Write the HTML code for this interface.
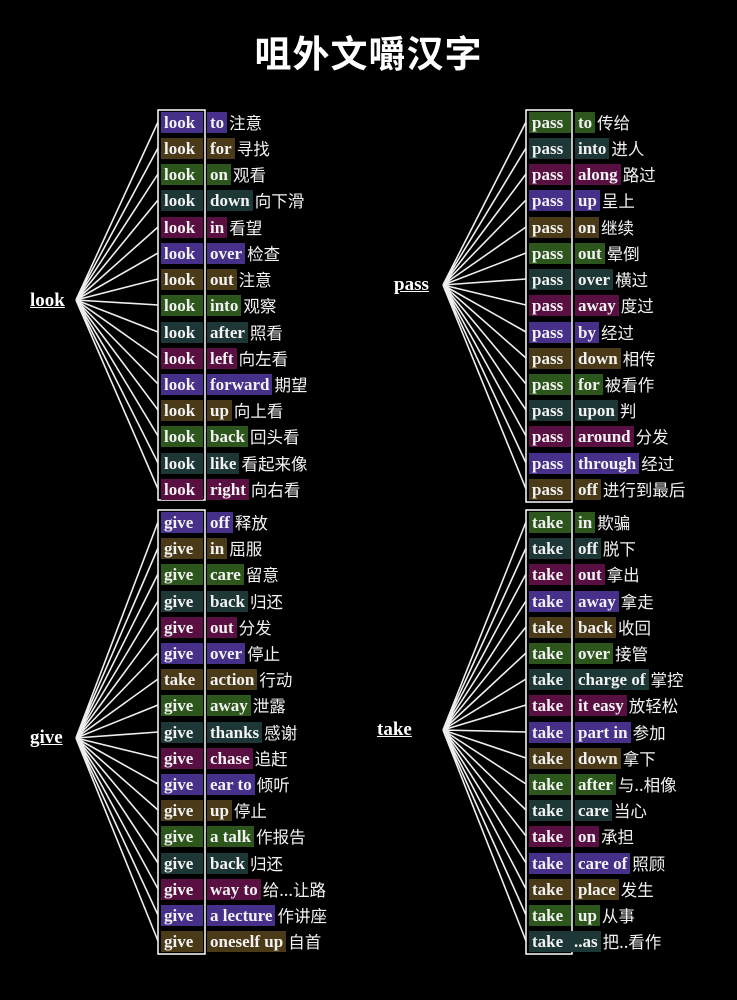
<!DOCTYPE html>
<html><head><meta charset="utf-8"><style>
body{margin:0;background:#000;}
#w{position:relative;width:737px;height:1000px;background:#000;overflow:hidden;color:#f2f2f2}
svg{position:absolute;left:0;top:0}
.t{position:absolute;left:0;width:737px;top:24px;text-align:center;font:bold 37px "Noto Sans CJK SC",sans-serif;color:#fff;letter-spacing:1px}
.k{position:absolute;font:bold 19px "Liberation Serif",serif;text-decoration:underline;color:#fff}
.r{position:absolute;height:21px;display:flex;align-items:center;white-space:nowrap;font:bold 17px "Liberation Serif",serif}
.r span{display:block;height:21px;line-height:21px;overflow:hidden}
.a{width:39px;padding-left:3px}
.b{margin-left:4px;padding:0 3px}
.r .c{font:16.5px "Noto Sans CJK SC",sans-serif;margin-left:2px;line-height:21px}
.p{background:#46308a}.o{background:#4a3a18}.g{background:#2d561c}.s{background:#1d3636}.m{background:#5a0f42}
.L{left:161px}.R{left:529px}
</style></head><body><div id="w">
<svg width="737" height="1000">
<g stroke="#eee" stroke-width="1.6" fill="none">
<rect x="158" y="110" width="47" height="390"/>
<rect x="526" y="110" width="46" height="392"/>
<rect x="158" y="510" width="47" height="444"/>
<rect x="526" y="510" width="46" height="444"/>
<path d="M76 300L158 122M76 300L158 148M76 300L158 174M76 300L158 200M76 300L158 227M76 300L158 253M76 300L158 279M76 300L158 305M76 300L158 332M76 300L158 358M76 300L158 384M76 300L158 410M76 300L158 436M76 300L158 463M76 300L158 489"/>
<path d="M443 285L526 122M443 285L526 148M443 285L526 174M443 285L526 200M443 285L526 227M443 285L526 253M443 285L526 279M443 285L526 305M443 285L526 332M443 285L526 358M443 285L526 384M443 285L526 410M443 285L526 436M443 285L526 463M443 285L526 489"/>
<path d="M76 738L158 522M76 738L158 548M76 738L158 574M76 738L158 601M76 738L158 627M76 738L158 653M76 738L158 679M76 738L158 705M76 738L158 732M76 738L158 758M76 738L158 784M76 738L158 810M76 738L158 836M76 738L158 863M76 738L158 889M76 738L158 915M76 738L158 941"/>
<path d="M443 730L526 522M443 730L526 548M443 730L526 574M443 730L526 601M443 730L526 627M443 730L526 653M443 730L526 679M443 730L526 705M443 730L526 732M443 730L526 758M443 730L526 784M443 730L526 810M443 730L526 836M443 730L526 863M443 730L526 889M443 730L526 915M443 730L526 941"/>
</g></svg>
<div class="t">咀外文嚼汉字</div>
<div class="k" style="left:30px;top:290px">look</div>
<div class="k" style="left:394px;top:274px">pass</div>
<div class="k" style="left:30px;top:727px">give</div>
<div class="k" style="left:377px;top:719px">take</div>

<div class="r L" style="top:112px"><span class="a p">look</span><span class="b p">to</span><span class="c">注意</span></div>
<div class="r L" style="top:138px"><span class="a o">look</span><span class="b o">for</span><span class="c">寻找</span></div>
<div class="r L" style="top:164px"><span class="a g">look</span><span class="b g">on</span><span class="c">观看</span></div>
<div class="r L" style="top:190px"><span class="a s">look</span><span class="b s">down</span><span class="c">向下滑</span></div>
<div class="r L" style="top:217px"><span class="a m">look</span><span class="b m">in</span><span class="c">看望</span></div>
<div class="r L" style="top:243px"><span class="a p">look</span><span class="b p">over</span><span class="c">检查</span></div>
<div class="r L" style="top:269px"><span class="a o">look</span><span class="b o">out</span><span class="c">注意</span></div>
<div class="r L" style="top:295px"><span class="a g">look</span><span class="b g">into</span><span class="c">观察</span></div>
<div class="r L" style="top:322px"><span class="a s">look</span><span class="b s">after</span><span class="c">照看</span></div>
<div class="r L" style="top:348px"><span class="a m">look</span><span class="b m">left</span><span class="c">向左看</span></div>
<div class="r L" style="top:374px"><span class="a p">look</span><span class="b p">forward</span><span class="c">期望</span></div>
<div class="r L" style="top:400px"><span class="a o">look</span><span class="b o">up</span><span class="c">向上看</span></div>
<div class="r L" style="top:426px"><span class="a g">look</span><span class="b g">back</span><span class="c">回头看</span></div>
<div class="r L" style="top:453px"><span class="a s">look</span><span class="b s">like</span><span class="c">看起来像</span></div>
<div class="r L" style="top:479px"><span class="a m">look</span><span class="b m">right</span><span class="c">向右看</span></div>

<div class="r R" style="top:112px"><span class="a g">pass</span><span class="b g">to</span><span class="c">传给</span></div>
<div class="r R" style="top:138px"><span class="a s">pass</span><span class="b s">into</span><span class="c">进人</span></div>
<div class="r R" style="top:164px"><span class="a m">pass</span><span class="b m">along</span><span class="c">路过</span></div>
<div class="r R" style="top:190px"><span class="a p">pass</span><span class="b p">up</span><span class="c">呈上</span></div>
<div class="r R" style="top:217px"><span class="a o">pass</span><span class="b o">on</span><span class="c">继续</span></div>
<div class="r R" style="top:243px"><span class="a g">pass</span><span class="b g">out</span><span class="c">晕倒</span></div>
<div class="r R" style="top:269px"><span class="a s">pass</span><span class="b s">over</span><span class="c">横过</span></div>
<div class="r R" style="top:295px"><span class="a m">pass</span><span class="b m">away</span><span class="c">度过</span></div>
<div class="r R" style="top:322px"><span class="a p">pass</span><span class="b p">by</span><span class="c">经过</span></div>
<div class="r R" style="top:348px"><span class="a o">pass</span><span class="b o">down</span><span class="c">相传</span></div>
<div class="r R" style="top:374px"><span class="a g">pass</span><span class="b g">for</span><span class="c">被看作</span></div>
<div class="r R" style="top:400px"><span class="a s">pass</span><span class="b s">upon</span><span class="c">判</span></div>
<div class="r R" style="top:426px"><span class="a m">pass</span><span class="b m">around</span><span class="c">分发</span></div>
<div class="r R" style="top:453px"><span class="a p">pass</span><span class="b p">through</span><span class="c">经过</span></div>
<div class="r R" style="top:479px"><span class="a o">pass</span><span class="b o">off</span><span class="c">进行到最后</span></div>

<div class="r L" style="top:512px"><span class="a p">give</span><span class="b p">off</span><span class="c">释放</span></div>
<div class="r L" style="top:538px"><span class="a o">give</span><span class="b o">in</span><span class="c">屈服</span></div>
<div class="r L" style="top:564px"><span class="a g">give</span><span class="b g">care</span><span class="c">留意</span></div>
<div class="r L" style="top:591px"><span class="a s">give</span><span class="b s">back</span><span class="c">归还</span></div>
<div class="r L" style="top:617px"><span class="a m">give</span><span class="b m">out</span><span class="c">分发</span></div>
<div class="r L" style="top:643px"><span class="a p">give</span><span class="b p">over</span><span class="c">停止</span></div>
<div class="r L" style="top:669px"><span class="a o">take</span><span class="b o">action</span><span class="c">行动</span></div>
<div class="r L" style="top:695px"><span class="a g">give</span><span class="b g">away</span><span class="c">泄露</span></div>
<div class="r L" style="top:722px"><span class="a s">give</span><span class="b s">thanks</span><span class="c">感谢</span></div>
<div class="r L" style="top:748px"><span class="a m">give</span><span class="b m">chase</span><span class="c">追赶</span></div>
<div class="r L" style="top:774px"><span class="a p">give</span><span class="b p">ear to</span><span class="c">倾听</span></div>
<div class="r L" style="top:800px"><span class="a o">give</span><span class="b o">up</span><span class="c">停止</span></div>
<div class="r L" style="top:826px"><span class="a g">give</span><span class="b g">a talk</span><span class="c">作报告</span></div>
<div class="r L" style="top:853px"><span class="a s">give</span><span class="b s">back</span><span class="c">归还</span></div>
<div class="r L" style="top:879px"><span class="a m">give</span><span class="b m">way to</span><span class="c">给...让路</span></div>
<div class="r L" style="top:905px"><span class="a p">give</span><span class="b p">a lecture</span><span class="c">作讲座</span></div>
<div class="r L" style="top:931px"><span class="a o">give</span><span class="b o">oneself up</span><span class="c">自首</span></div>

<div class="r R" style="top:512px"><span class="a g">take</span><span class="b g">in</span><span class="c">欺骗</span></div>
<div class="r R" style="top:538px"><span class="a s">take</span><span class="b s">off</span><span class="c">脱下</span></div>
<div class="r R" style="top:564px"><span class="a m">take</span><span class="b m">out</span><span class="c">拿出</span></div>
<div class="r R" style="top:591px"><span class="a p">take</span><span class="b p">away</span><span class="c">拿走</span></div>
<div class="r R" style="top:617px"><span class="a o">take</span><span class="b o">back</span><span class="c">收回</span></div>
<div class="r R" style="top:643px"><span class="a g">take</span><span class="b g">over</span><span class="c">接管</span></div>
<div class="r R" style="top:669px"><span class="a s">take</span><span class="b s">charge of</span><span class="c">掌控</span></div>
<div class="r R" style="top:695px"><span class="a m">take</span><span class="b m">it easy</span><span class="c">放轻松</span></div>
<div class="r R" style="top:722px"><span class="a p">take</span><span class="b p">part in</span><span class="c">参加</span></div>
<div class="r R" style="top:748px"><span class="a o">take</span><span class="b o">down</span><span class="c">拿下</span></div>
<div class="r R" style="top:774px"><span class="a g">take</span><span class="b g">after</span><span class="c">与..相像</span></div>
<div class="r R" style="top:800px"><span class="a s">take</span><span class="b s">care</span><span class="c">当心</span></div>
<div class="r R" style="top:826px"><span class="a m">take</span><span class="b m">on</span><span class="c">承担</span></div>
<div class="r R" style="top:853px"><span class="a p">take</span><span class="b p">care of</span><span class="c">照顾</span></div>
<div class="r R" style="top:879px"><span class="a o">take</span><span class="b o">place</span><span class="c">发生</span></div>
<div class="r R" style="top:905px"><span class="a g">take</span><span class="b g">up</span><span class="c">从事</span></div>
<div class="r R" style="top:931px"><span class="a s">take</span><span class="b s" style="margin-left:0">..as</span><span class="c">把..看作</span></div>
</div></body></html>
